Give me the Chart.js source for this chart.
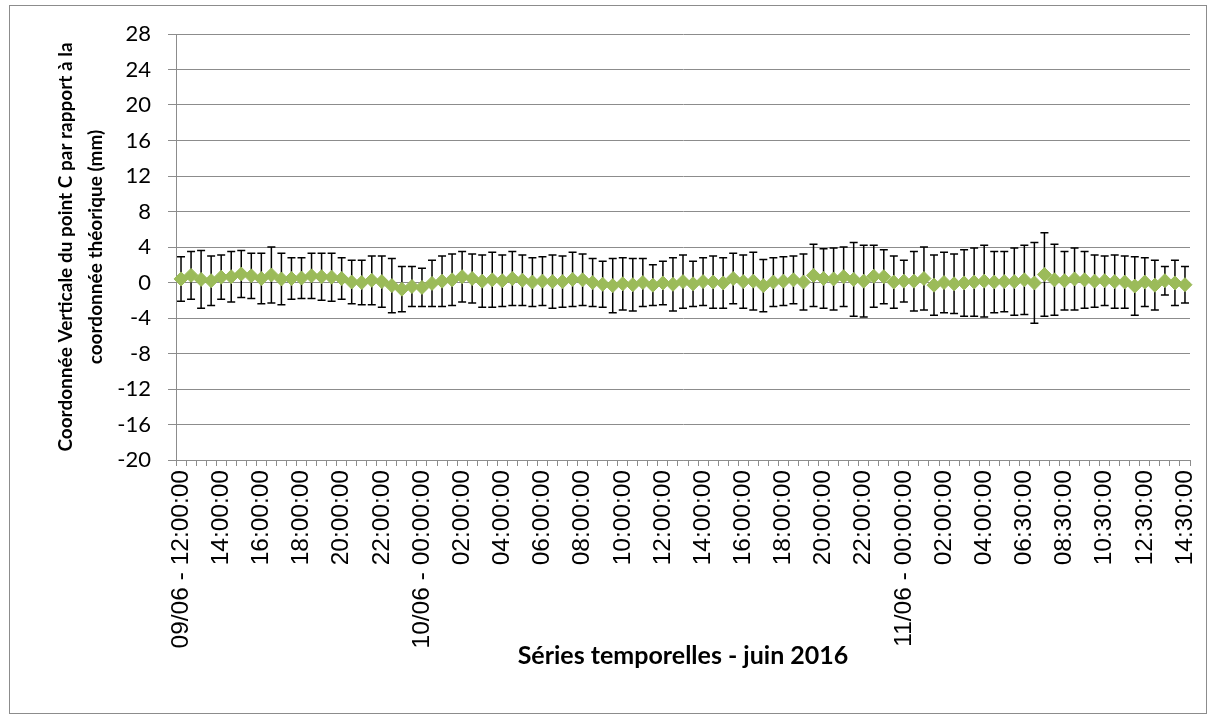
<!DOCTYPE html>
<html>
<head>
<meta charset="utf-8">
<script src="https://cdn.jsdelivr.net/npm/chart.js@4/dist/chart.umd.min.js"></script>
<style>
    body { margin: 0; background: #fff; }
    #wrap { width: 1215px; height: 721px; }
</style>
</head>
<body>
<div id="wrap"><canvas id="myChart" width="1215" height="721"></canvas></div>
<script>
const categories = [
    '09/06 - 12:00:00', '12:30:00', '13:00:00', '13:30:00', '14:00:00', '14:30:00', '15:00:00', '15:30:00',
    '16:00:00', '16:30:00', '17:00:00', '17:30:00', '18:00:00', '18:30:00', '19:00:00', '19:30:00',
    '20:00:00', '20:30:00', '21:00:00', '21:30:00', '22:00:00', '22:30:00', '23:00:00', '23:30:00',
    '10/06 - 00:00:00', '00:30:00', '01:00:00', '01:30:00', '02:00:00', '02:30:00', '03:00:00', '03:30:00',
    '04:00:00', '04:30:00', '05:00:00', '05:30:00', '06:00:00', '06:30:00', '07:00:00', '07:30:00',
    '08:00:00', '08:30:00', '09:00:00', '09:30:00', '10:00:00', '10:30:00', '11:00:00', '11:30:00',
    '12:00:00', '12:30:00', '13:00:00', '13:30:00', '14:00:00', '14:30:00', '15:00:00', '15:30:00',
    '16:00:00', '16:30:00', '17:00:00', '17:30:00', '18:00:00', '18:30:00', '19:00:00', '19:30:00',
    '20:00:00', '20:30:00', '21:00:00', '21:30:00', '22:00:00', '22:30:00', '23:00:00', '23:30:00',
    '11/06 - 00:00:00', '00:30:00', '01:00:00', '01:30:00', '02:00:00', '02:30:00', '03:00:00', '03:30:00',
    '04:00:00', '04:30:00', '05:00:00', '06:00:00', '06:30:00', '07:00:00', '07:30:00', '08:00:00',
    '08:30:00', '09:00:00', '09:30:00', '10:00:00', '10:30:00', '11:00:00', '11:30:00', '12:00:00',
    '12:30:00', '13:00:00', '13:30:00', '14:00:00', '14:30:00'
];

// ecart moyen (mm)
const means = [
    0.4, 0.8, 0.35, 0.2, 0.6, 0.65, 0.95, 0.75, 0.45, 0.85,
    0.4, 0.45, 0.5, 0.75, 0.65, 0.6, 0.45, 0.05, 0.0, 0.25,
    0.1, -0.35, -0.75, -0.45, -0.55, -0.1, 0.15, 0.3, 0.65, 0.45,
    0.15, 0.3, 0.2, 0.45, 0.25, 0.05, 0.15, 0.1, 0.1, 0.35,
    0.3, 0.0, -0.2, -0.35, -0.15, -0.25, 0.0, -0.3, -0.05, -0.2,
    0.1, -0.15, 0.1, 0.05, -0.05, 0.45, 0.1, 0.15, -0.35, 0.05,
    0.15, 0.3, 0.05, 0.8, 0.45, 0.4, 0.65, 0.35, 0.15, 0.7,
    0.65, 0.05, 0.15, 0.15, 0.45, -0.3, 0.0, -0.15, -0.05, 0.05,
    0.15, 0.05, 0.1, 0.1, 0.3, -0.05, 0.9, 0.3, 0.2, 0.4,
    0.3, 0.15, 0.2, 0.1, 0.05, -0.4, 0.05, -0.3, 0.2, -0.05,
    -0.25
];

// ecart-type (mm)
const errors = [
    2.5, 2.7, 3.25, 2.8, 2.5, 2.85, 2.65, 2.55, 2.85, 3.15,
    2.9, 2.35, 2.3, 2.55, 2.65, 2.7, 2.35, 2.45, 2.5, 2.75,
    2.9, 3.05, 2.55, 2.25, 2.15, 2.6, 2.85, 2.9, 2.85, 2.75,
    2.95, 3.1, 2.9, 3.05, 2.85, 2.75, 2.75, 3.0, 2.9, 3.05,
    2.9, 2.7, 2.6, 3.05, 2.95, 2.95, 2.7, 2.3, 2.45, 3.0,
    3.0, 2.55, 2.7, 2.95, 2.85, 2.85, 3.0, 3.25, 2.95, 2.75,
    2.75, 2.7, 3.15, 3.5, 3.35, 3.5, 3.35, 4.15, 4.05, 3.5,
    3.05, 2.95, 2.35, 3.35, 3.55, 3.4, 3.4, 3.35, 3.75, 3.85,
    4.05, 3.45, 3.4, 3.8, 3.9, 4.55, 4.7, 4.0, 3.3, 3.5,
    3.2, 2.95, 2.8, 3.0, 2.95, 3.3, 2.75, 2.8, 1.6, 2.55,
    2.05
];

const yMin = -20;
const yMax = 28;
const yStep = 4;

const errorBars = {
    id: 'errorBars',
    beforeDatasetsDraw(chart) {
        const ctx = chart.ctx;
        const x = chart.scales.x;
        const y = chart.scales.y;
        ctx.save();
        ctx.strokeStyle = '#000000';
        ctx.lineWidth = 1.5;
        means.forEach((m, i) => {
            let px = x.getPixelForValue(i);
            let top = y.getPixelForValue(m + errors[i]);
            let bot = y.getPixelForValue(m - errors[i]);
            ctx.beginPath();
            ctx.moveTo(px, top);
            ctx.lineTo(px, bot);
            ctx.moveTo(px - 4, top);
            ctx.lineTo(px + 4, top);
            ctx.moveTo(px - 4, bot);
            ctx.lineTo(px + 4, bot);
            ctx.stroke();
        });
        ctx.restore();
    }
};

const frame = {
    id: 'frame',
    afterDraw(chart) {
        const ctx = chart.ctx;
        ctx.save();
        ctx.strokeStyle = '#8c8c8c';
        ctx.lineWidth = 1;
        ctx.strokeRect(9.5, 5.5, 1197, 708);
        ctx.restore();
    }
};

const data = {
    labels: categories,
    datasets: [{
        label: 'Point C',
        data: means,
        showLine: false,
        pointStyle: 'rectRot',
        pointRadius: 7,
        pointBackgroundColor: '#9BBB59',
        pointBorderColor: '#9BBB59',
        pointBorderWidth: 1
    }]
};

const config = {
    type: 'line',
    data: data,
    plugins: [errorBars, frame],
    options: {
        responsive: false,
        animation: false,
        layout: {
            padding: { left: 0, top: 34, right: 25, bottom: 46 }
        },
        plugins: {
            legend: { display: false },
            tooltip: { enabled: false }
        },
        scales: {
            x: {
                offset: true,
                grid: {
                    offset: true,
                    drawOnChartArea: false,
                    tickLength: 6,
                    color: '#8c8c8c'
                },
                border: { color: '#8c8c8c' },
                ticks: {
                    autoSkip: false,
                    maxRotation: 90,
                    minRotation: 90,
                    padding: 4,
                    color: '#000000',
                    font: { family: 'Liberation Sans', size: 24.5 },
                    callback: function (value, index) {
                        return index % 4 === 0 ? this.getLabelForValue(value) : '';
                    }
                },
                title: {
                    display: true,
                    text: 'Séries temporelles - juin 2016',
                    color: '#000000',
                    font: { family: 'Lato', size: 25, weight: 'bold' },
                    padding: { top: 0, bottom: 4 }
                },
                afterFit: function (scale) {
                    scale.height = 215;
                    scale.paddingLeft = 0;
                    scale.paddingRight = 0;
                }
            },
            y: {
                min: yMin,
                max: yMax,
                grid: {
                    tickLength: 8,
                    color: '#8c8c8c'
                },
                border: { color: '#8c8c8c' },
                ticks: {
                    stepSize: yStep,
                    padding: 17,
                    color: '#000000',
                    font: { family: 'Lato', size: 22 }
                },
                title: {
                    display: true,
                    text: ['Coordonnée Verticale du point C par rapport à la', 'coordonnée théorique (mm)'],
                    color: '#000000',
                    font: { family: 'Lato', size: 19, weight: 'bold', lineHeight: 1.58 },
                    padding: { top: 51, bottom: 0 }
                },
                afterFit: function (scale) {
                    scale.width = 176;
                    scale.paddingTop = 0;
                    scale.paddingBottom = 0;
                }
            }
        }
    }
};

var myChart = new Chart(
    document.getElementById('myChart'),
    config
);
</script>
</body>
</html>
